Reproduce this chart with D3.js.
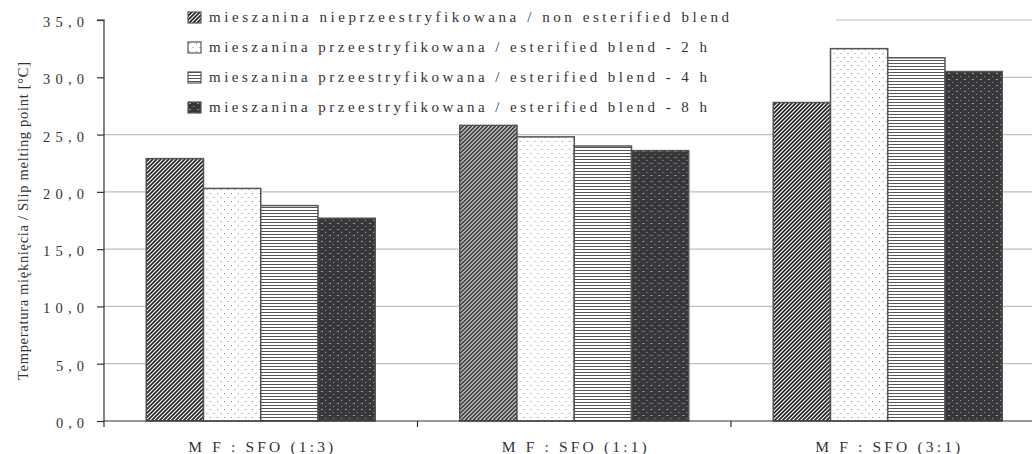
<!DOCTYPE html>
<html><head><meta charset="utf-8">
<script src="https://cdn.jsdelivr.net/npm/d3@7"></script>
<style>body{margin:0;background:#fff}svg{display:block}svg text{font-family:"Liberation Serif","Times New Roman",serif !important;fill:#333}</style>
</head><body><svg id="c" width="1032" height="454"></svg>
<script>
const categories = ["M F : SFO (1:3)", "M F : SFO (1:1)", "M F : SFO (3:1)"];
const seriesNames = [
  "mieszanina nieprzeestryfikowana / non esterified blend",
  "mieszanina przeestryfikowana / esterified blend - 2 h",
  "mieszanina przeestryfikowana / esterified blend - 4 h",
  "mieszanina przeestryfikowana / esterified blend - 8 h"
];
const nonEsterified = [22.9, 25.8, 27.8];
const esterified2h = [20.3, 24.8, 32.5];
const esterified4h = [18.8, 24.0, 31.7];
const esterified8h = [17.7, 23.6, 30.5];
const yTicks = [0, 5, 10, 15, 20, 25, 30, 35];
const yTitle = "Temperatura mięknięcia / Slip melting point  [°C]";

const FONT = '"Liberation Serif", "Times New Roman", serif';
const seriesValues = [nonEsterified, esterified2h, esterified4h, esterified8h];
const svg = d3.select("#c");
const defs = svg.append("defs");

// patterns
const p1 = defs.append("pattern").attr("id","pat0").attr("patternUnits","userSpaceOnUse").attr("width",4).attr("height",4);
p1.append("rect").attr("width",4).attr("height",4).attr("fill","#fff");
p1.append("path").attr("d","M-1,1 l2,-2 M0,4 l4,-4 M3,5 l2,-2").attr("stroke","#262626").attr("stroke-width",1.7);
const p2 = defs.append("pattern").attr("id","pat1").attr("patternUnits","userSpaceOnUse").attr("width",7).attr("height",8);
p2.append("rect").attr("width",7).attr("height",8).attr("fill","#fff");
p2.append("rect").attr("x",1).attr("y",1).attr("width",1).attr("height",1).attr("fill","#888");
p2.append("rect").attr("x",4.5).attr("y",5).attr("width",1).attr("height",1).attr("fill","#888");
const p3 = defs.append("pattern").attr("id","pat2").attr("patternUnits","userSpaceOnUse").attr("width",6).attr("height",3);
p3.append("rect").attr("width",6).attr("height",3).attr("fill","#fff");
p3.append("rect").attr("y",0).attr("width",6).attr("height",1).attr("fill","#555");
const p4 = defs.append("pattern").attr("id","pat3").attr("patternUnits","userSpaceOnUse").attr("width",8).attr("height",6);
p4.append("rect").attr("width",8).attr("height",6).attr("fill","#38373c");
p4.append("rect").attr("x",1).attr("y",1).attr("width",2).attr("height",1).attr("fill","#9a9a9e");
p4.append("rect").attr("x",5).attr("y",4).attr("width",1).attr("height",1).attr("fill","#9a9a9e");

const left = 104, step = 313.5, yBottom = 421, yTop = 20;
const x0 = d3.scaleBand().domain(categories).range([left, left + step*categories.length]).padding(0);
const groupW = 229;
const off = (x0.bandwidth() - groupW) / 2;
const x1 = d3.scaleBand().domain(d3.range(seriesNames.length)).range([off, off + groupW]).padding(0);
const y = d3.scaleLinear().domain([0, 35]).range([yBottom, yTop]);

// gridlines
svg.append("g").selectAll("line").data(yTicks.filter(d => d > 0)).join("line")
  .attr("x1", left).attr("x2", 1032).attr("y1", d => y(d)).attr("y2", d => y(d))
  .attr("stroke", "#c4bdb9").attr("stroke-width", 1.2);

// legend background
svg.append("rect").attr("x", left+1).attr("y", 0).attr("width", 836-left-1).attr("height", 128).attr("fill", "#fff");

// bars
const groups = svg.append("g").selectAll("g").data(categories).join("g")
  .attr("transform", d => `translate(${x0(d)},0)`);
groups.selectAll("rect").data((d, ci) => seriesValues.map((s, si) => ({si, v: s[ci]}))).join("rect")
  .attr("x", d => x1(d.si)).attr("width", x1.bandwidth())
  .attr("y", d => y(d.v)).attr("height", d => y(0) - y(d.v))
  .attr("fill", d => `url(#pat${d.si})`).attr("stroke", "#555").attr("stroke-width", 1.5);

// y axis
const yAxis = d3.axisLeft(y).tickValues(yTicks).tickSize(7).tickPadding(0).tickFormat(d => d3.format(".1f")(d).replace(".", ","));
const ya = svg.append("g").attr("transform", `translate(${left},0)`).call(yAxis).attr("font-family", FONT);
ya.select(".domain").attr("d", `M-7,${yTop}H0V${yBottom}`).attr("stroke", "#333").attr("stroke-width", 1.2);
ya.selectAll(".tick line").attr("stroke", "#333").attr("stroke-width", 1.2);
ya.selectAll(".tick text").attr("x", -20).attr("dy", null).attr("y", 6.5)
  .style("font-family", FONT).style("font-size", "14.5px").attr("fill", "#333")
  .attr("textLength", d => d >= 10 ? 41 : 28).attr("lengthAdjust", "spacing");

// x axis
const xAxis = d3.axisBottom(x0).tickSize(0).tickFormat(d => d);
const xa = svg.append("g").attr("transform", `translate(0,${yBottom})`).call(xAxis).attr("font-family", FONT);
xa.select(".domain").attr("d", `M${left},0H1032`).attr("stroke", "#333").attr("stroke-width", 1.2);
xa.selectAll(".tick text").attr("y", 31).attr("dy", null)
  .style("font-family", FONT).style("font-size", "15.5px").attr("fill", "#333")
  .attr("textLength", 145).attr("lengthAdjust", "spacing");
svg.append("g").selectAll("line").data(categories).join("line")
  .attr("x1", d => x0(d)).attr("x2", d => x0(d)).attr("y1", yBottom).attr("y2", yBottom + 6)
  .attr("stroke", "#333").attr("stroke-width", 1.2);

// y title
svg.append("text").attr("transform", "translate(28,221) rotate(-90)").attr("text-anchor", "middle")
  .style("font-family", FONT).style("font-size", "14.5px").attr("textLength", 318).attr("lengthAdjust", "spacing").text(yTitle);

// legend
const lg = svg.append("g").selectAll("g").data(seriesNames).join("g")
  .attr("transform", (d, i) => `translate(188,${12 + i*30})`);
lg.append("rect").attr("width", 13).attr("height", 11).attr("fill", (d, i) => `url(#pat${i})`).attr("stroke", "#555").attr("stroke-width", 1.2);
lg.append("text").attr("x", 21).attr("y", 10).style("font-family", FONT).style("font-size", "15px")
  .attr("textLength", (d, i) => i === 0 ? 520 : 498).attr("lengthAdjust", "spacing").text(d => d);
</script></body></html>
